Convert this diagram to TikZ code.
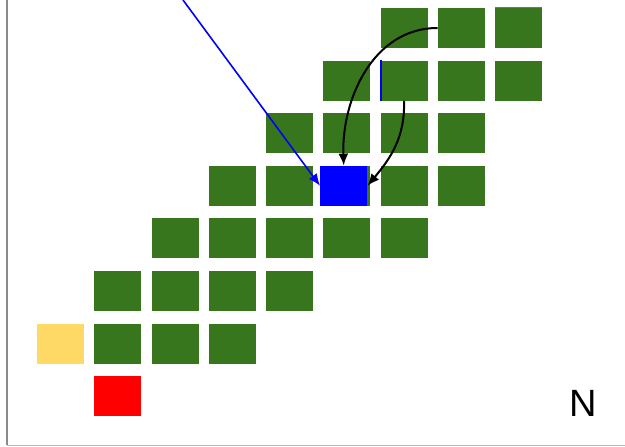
\documentclass[tikz,border=0pt]{standalone}
\usepackage{fontspec}
\setsansfont{Liberation Sans}
\usepackage{xcolor}
\usetikzlibrary{arrows.meta,positioning,calc}
\definecolor{leaf}{HTML}{38761D}
\definecolor{sand}{HTML}{FFD966}
\definecolor{frame}{HTML}{8A8A8A}
\definecolor{steel}{HTML}{4A7FA8}

\begin{document}
\begin{tikzpicture}[x=1pt,y=-1pt,
    cell/.style={minimum width=47pt,minimum height=40pt,inner sep=0pt,fill=leaf},
    hop/.style={-{Latex[length=12pt,width=10pt]},line width=2pt}]
    \useasboundingbox (0,0) rectangle (625,447);
    \draw[frame,line width=2pt] (7,0) -- (7,445);
    \draw[frame!60,line width=1pt] (7,445.5) -- (625,445.5);
    % green cells, row : list of columns
    \foreach \r/\cols in {0/{6,7,8},1/{5,6,7,8},2/{4,5,6,7},3/{3,4,5,6,7},4/{2,3,4,5,6},5/{1,2,3,4},6/{1,2,3}}
      \foreach \c in \cols
        \node[cell] (c-\r-\c) at ({60.5+57.25*\c},{28+52.6*\r}) {};
    \node[cell,fill=sand] (start) at (60.5,{28+52.6*6}) {};
    \node[cell,fill=red] (goal) at (117.75,{28+52.6*7}) {};
    \fill[blue] (c-1-6.north west) rectangle ($(c-1-6.south west)+(2,0)$);
    \draw[steel,line width=1pt] (c-0-8.north west) -- (c-0-8.north east);
    \node[cell,fill=blue] (cur) at ($(c-3-5)+(-3,0)$) {};
    \coordinate (src) at (183,0);
    \draw[hop,blue,line width=1.6pt] (src) -- (cur.west);
    \draw[hop] (c-0-7.west) to[out=180,in=92] (cur.north);
    \draw[hop] (c-1-6.south) to[out=-88,in=50] (cur.east);
    \node[font=\sffamily\fontsize{38}{38}\selectfont] (mark) at (583.5,403) {N};
\end{tikzpicture}
\end{document}
